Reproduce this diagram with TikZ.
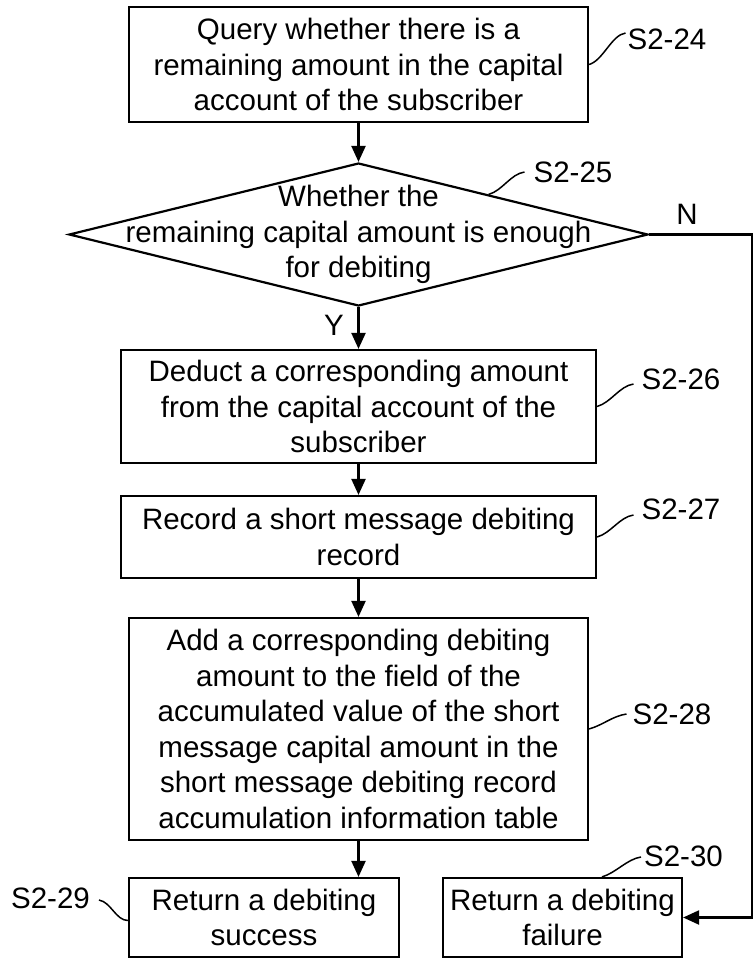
\documentclass[tikz,border=0pt]{standalone}
\usepackage{fontspec}
\setmainfont{Liberation Sans}
\usetikzlibrary{shapes.geometric,arrows.meta,calc}

\begin{document}
\begin{tikzpicture}[x=1pt, y=-1pt, line width=2.2pt,
  >={Triangle[length=16pt,width=14pt]},
  stepbox/.style={draw, rectangle, inner sep=0pt, align=center},
  tag/.style={inner sep=0pt},
  lead/.style={line width=1.5pt}]

  \fontsize{29.5}{35.5}\selectfont
  \useasboundingbox (0,0) rectangle (755,961);

  %% steps
  \node[stepbox, minimum width=459pt, minimum height=115pt] (s24) at (358.5,64.5)
    {Query whether there is a\\remaining amount in the capital\\account of the subscriber};
  \node[draw, diamond, inner sep=0pt, minimum width=579pt, minimum height=143pt] (s25) at (358.5,234.5) {};
  \node[align=center, inner sep=0pt] (q25) at (s25.center)
    {Whether the\\remaining capital amount is enough\\for debiting};
  \node[stepbox, minimum width=475pt, minimum height=113pt] (s26) at (358.5,406.5)
    {Deduct a corresponding amount\\from the capital account of the\\subscriber};
  \node[stepbox, minimum width=475pt, minimum height=82pt] (s27) at (358.5,537)
    {Record a short message debiting\\record};
  \node[stepbox, minimum width=459pt, minimum height=222pt] (s28) at (358.5,729)
    {Add a corresponding debiting\\amount to the field of the\\accumulated value of the short\\message capital amount in the\\short message debiting record\\accumulation information table};
  \node[stepbox, minimum width=270pt, minimum height=79pt] (s29) at (264,917.5)
    {Return a debiting\\success};
  \node[stepbox, minimum width=239pt, minimum height=79pt] (s30) at (562.5,917.5)
    {Return a debiting\\failure};

  %% step tags
  \node[tag] (l24) at (667,39) {S2-24};
  \node[tag] (l25) at (573,172) {S2-25};
  \node[tag] (l26) at (681,379) {S2-26};
  \node[tag] (l27) at (681,509) {S2-27};
  \node[tag] (l28) at (672,714) {S2-28};
  \node[tag] (l29) at (50.5,898) {S2-29};
  \node[tag] (l30) at (683.5,856) {S2-30};
  \node[tag] (nlab) at (687,214) {N};
  \node[tag] (ylab) at (334,325) {Y};

  %% leaders
  \draw[lead] (s24.east) .. controls +(14,-4) and +(-14,2) .. ([xshift=-1pt,yshift=6pt]l24.west);
  \coordinate (e25) at ($(s25.north)!0.448!(s25.east)$);
  \draw[lead] (e25) .. controls +(14,-4) and +(-14,2) .. ([xshift=-8pt]l25.west);
  \draw[lead] (s26.east) .. controls +(14,-4) and +(-14,2) .. ([xshift=-7pt,yshift=-5pt]l26.west);
  \draw[lead] (s27.east) .. controls +(14,-4) and +(-14,2) .. ([xshift=-7pt,yshift=-6pt]l27.west);
  \draw[lead] (s28.east) .. controls +(14,-4) and +(-14,2) .. ([xshift=-5pt]l28.west);
  \draw[lead] ([xshift=8pt,yshift=-2pt]l29.east) .. controls +(12,2) and +(-12,0) .. ([yshift=-3pt]s29.west);
  \draw[lead] ([xshift=39.5pt]s30.north) .. controls +(14,-4) and +(-14,2) .. ([xshift=-2pt,yshift=-1pt]l30.west);

  %% flow
  \draw[->] (s24) -- (s25); % 24->25
  \draw[->] (s25) -- (s26); % Y
  \draw[->] (s26) -- (s27);
  \draw[->] (s27) -- (s28);
  \draw[->] (s28.south) -- (s28.south |- s29.north); % 28->29

  \coordinate (nbend) at (752,234.5);
  \draw[->] (s25.east) -- (nbend) |- (s30.east); % N

\end{tikzpicture}
\end{document}
